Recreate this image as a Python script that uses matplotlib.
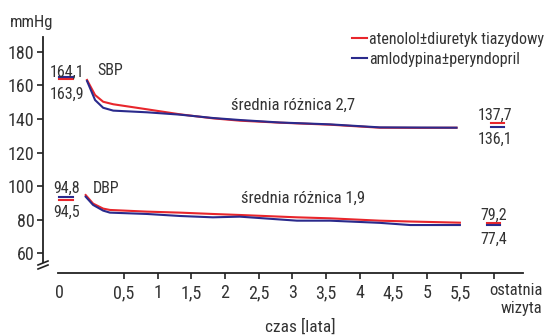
import matplotlib
matplotlib.use('Agg')
import matplotlib.pyplot as plt
from matplotlib.lines import Line2D

# Fonts and colours
plt.rcParams['font.family'] = ['Roboto Condensed', 'Liberation Sans Narrow', 'DejaVu Sans']
plt.rcParams['font.stretch'] = 'condensed'
TXT = '#333333'
RED = '#e8262c'
BLUE = '#2a2a8c'

# SBP curves (years, mmHg)
t_sbp = [-0.05, 0.07, 0.19, 0.34, 0.84, 1.33, 1.82, 2.22, 2.82, 3.56, 4.30, 4.90, 5.44]
sbp_aten = [163.3, 154.3, 150.3, 148.8, 145.8, 142.8, 140.4, 139.0, 137.8, 136.6, 134.8, 134.7, 134.8]
sbp_amlo = [162.7, 151.3, 146.7, 145.0, 144.0, 142.6, 140.6, 139.4, 137.9, 136.8, 135.0, 134.9, 134.8]

# DBP curves
t_dbp = [-0.07, 0.04, 0.19, 0.29, 0.84, 1.33, 1.82, 2.22, 3.07, 3.56, 4.30, 4.75, 5.49]
dbp_aten = [94.6, 89.5, 86.5, 85.7, 84.7, 84.1, 83.3, 82.7, 81.3, 80.7, 79.3, 78.8, 78.1]
dbp_amlo = [93.6, 88.7, 85.3, 84.1, 83.3, 82.1, 81.3, 81.7, 79.3, 79.3, 78.0, 76.7, 76.7]

# baseline / last-visit markers (drawn positions) and their labels
base_x = [-0.47, -0.26]
last_sbp_x = [5.95, 6.15]
last_dbp_x = [5.89, 6.08]
base_sbp = {'aten': 163.7, 'amlo': 164.9}
base_dbp = {'aten': 91.6, 'amlo': 93.2}
last_sbp = {'aten': 137.4, 'amlo': 135.4}
last_dbp = {'aten': 78.1, 'amlo': 76.5}
base_sbp_lbl = ['164,1', '163,9']
base_dbp_lbl = ['94,8', '94,5']
last_sbp_lbl = ['137,7', '136,1']
last_dbp_lbl = ['79,2', '77,4']

xticks = [-0.467, 0.5, 1, 1.5, 2, 2.5, 3, 3.5, 4, 4.5, 5, 5.5, 6.0]
xticklabels = ['0', '0,5', '1', '1,5', '2', '2,5', '3', '3,5', '4', '4,5', '5', '5,5', '']
yticks = [60, 80, 100, 120, 140, 160, 180]

fig = plt.figure(figsize=(5.49, 3.36), dpi=100)
ax = fig.add_axes([43/549, 63/336, 506/549, 241/336])
ax.set_xlim(-0.704, 6.814)
ax.set_ylim(48.06, 191.94)

ax.plot(t_sbp, sbp_aten, color=RED, lw=1.5, label='atenolol\u00b1diuretyk tiazydowy', zorder=3)
ax.plot(t_sbp, sbp_amlo, color=BLUE, lw=1.5, label='amlodypina\u00b1peryndopril', zorder=3)
ax.plot(t_dbp, dbp_aten, color=RED, lw=1.5, zorder=3)
ax.plot(t_dbp, dbp_amlo, color=BLUE, lw=1.5, zorder=3)

for xs, d in [(base_x, base_sbp), (base_x, base_dbp), (last_sbp_x, last_sbp), (last_dbp_x, last_dbp)]:
    ax.plot(xs, [d['aten']] * 2, color=RED, lw=1.5)
    ax.plot(xs, [d['amlo']] * 2, color=BLUE, lw=1.5)

fs = 11.5
kw = dict(ha='center', va='center', fontsize=fs, color=TXT)
ax.text(-0.35, 168.1, base_sbp_lbl[0], **kw)
ax.text(-0.35, 154.9, base_sbp_lbl[1], **kw)
ax.text(0.29, 168.7, 'SBP', **kw)
ax.text(-0.36, 98.8, base_dbp_lbl[0], **kw)
ax.text(-0.36, 84.5, base_dbp_lbl[1], **kw)
ax.text(0.23, 98.8, 'DBP', **kw)
ax.text(6.01, 142.4, last_sbp_lbl[0], **kw)
ax.text(6.01, 128.1, last_sbp_lbl[1], **kw)
ax.text(5.99, 82.7, last_dbp_lbl[0], **kw)
ax.text(5.99, 68.4, last_dbp_lbl[1], **kw)
ax.text(3.01, 148.4, '\u015brednia r\u00f3\u017cnica 2,7', ha='center', va='center', fontsize=12, color=TXT)
ax.text(3.16, 92.6, '\u015brednia r\u00f3\u017cnica 1,9', ha='center', va='center', fontsize=12, color=TXT)

# spines
for s in ['top', 'right']:
    ax.spines[s].set_visible(False)
ax.spines['left'].set_bounds(54.6, 189)
ax.spines['bottom'].set_bounds(-0.48, 6.43)
for s in ['left', 'bottom']:
    ax.spines[s].set_linewidth(1.3)
    ax.spines[s].set_color('#222222')

ax.set_yticks(yticks)
ax.set_xticks(xticks)
ax.set_xticklabels(xticklabels)
ax.xaxis.get_major_ticks()[0].tick1line.set_visible(False)
ax.tick_params(axis='both', direction='out', length=4, width=1.2, color='#222222',
               labelsize=13, labelcolor=TXT, pad=2)
ax.tick_params(axis='x', pad=4)

# last-visit tick label
ax.text(6.72, -0.04, 'ostatnia\nwizyta', transform=ax.get_xaxis_transform(), ha='right', va='top',
        multialignment='right', fontsize=12, color=TXT, linespacing=1.3)

# axis break on y axis
for dy in [0, 4]:
    ax.add_line(Line2D([(38 - 43) / 506, (48 - 43) / 506], [(273 - 265 - dy) / 241, (273 - 261 - dy) / 241],
                       transform=ax.transAxes, color='#222222', lw=1.2, clip_on=False))

fig.text(10/549, 1 - 22/336, 'mmHg', ha='left', va='center', fontsize=12, color=TXT)
fig.text(300/549, 1 - 327/336, 'czas [lata]', ha='center', va='center', fontsize=12.5, color=TXT)

leg = ax.legend(loc='upper left', bbox_to_anchor=(344/549, 1 - 24/336), bbox_transform=fig.transFigure,
                frameon=False, fontsize=11.5, handlelength=0.95, handletextpad=0.12, labelspacing=0.3,
                borderpad=0, labelcolor=TXT)

fig.savefig('out.png', dpi=100)
